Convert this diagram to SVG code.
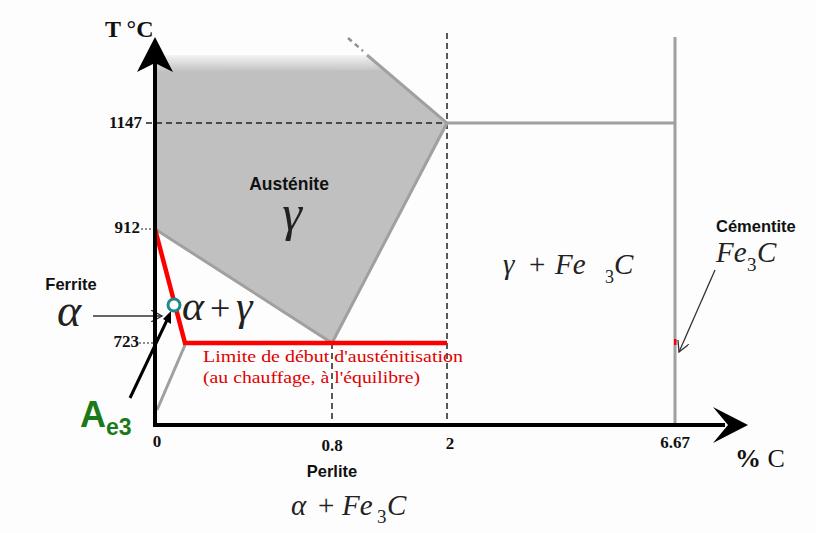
<svg xmlns="http://www.w3.org/2000/svg" width="816" height="533" viewBox="0 0 816 533">
<defs>
<linearGradient id="topfade" x1="0" y1="0" x2="0" y2="1">
<stop offset="0" stop-color="#f4f4f4"/>
<stop offset="1" stop-color="#c0c0c0"/>
</linearGradient>
<marker id="open" viewBox="0 0 12 12" refX="11" refY="6" markerWidth="12" markerHeight="12" markerUnits="userSpaceOnUse" orient="auto">
<path d="M0,0 L11,6 L0,12" fill="none" stroke="#333" stroke-width="1.3"/>
</marker>
</defs>
<style>
.tick{font-family:"Liberation Serif",serif;font-weight:bold;font-size:17px;fill:#111}
.lab{font-family:"Liberation Sans",Arial,sans-serif;font-weight:bold;fill:#111}
.math{font-family:"Liberation Serif","Times New Roman",serif;font-style:italic;fill:#222}
.up{font-style:normal}
.red{font-family:"Liberation Serif",serif;font-size:17.5px;fill:#e00000}
.dash{stroke:#222;stroke-width:1.5;stroke-dasharray:6 4;fill:none}
.dot{stroke:#222;stroke-width:1.2;stroke-dasharray:2 2;fill:none}
.phase{stroke:#a0a0a0;stroke-width:3;fill:none}
</style>
<rect width="816" height="533" fill="#fdfdfd"/>

<g id="austenite-region">
<polygon points="155,55 367,55 447,123 332,343 155,229" fill="#c0c0c0"/>
<polygon points="367,55 385,70 155,72 155,55" fill="url(#topfade)"/>
</g>

<g id="connectors">
<line class="dash" x1="146" y1="123" x2="447" y2="123"/>
<line class="dash" x1="447" y1="33" x2="447" y2="425"/>
<line class="dash" x1="332" y1="343" x2="332" y2="425"/>
<line class="dot" x1="141" y1="229" x2="155" y2="229"/>
<line class="dot" x1="139" y1="343" x2="155" y2="343"/>
<line x1="348" y1="38" x2="363" y2="51" stroke="#909090" stroke-width="2.5" stroke-dasharray="5 4"/>
<polyline class="phase" points="367,55 447,123 332,343 155,229" stroke="#909090"/>
<line class="phase" x1="447" y1="123" x2="675" y2="123" stroke="#888"/>
<line class="phase" x1="675" y1="37" x2="675" y2="425"/>
<line class="phase" x1="185" y1="345" x2="157" y2="410"/>
<polyline points="155,229 185,343 447,343" fill="none" stroke="#ff0000" stroke-width="4.5" stroke-linejoin="miter"/>
<rect x="674" y="339" width="2.5" height="6" fill="#ff0000"/>
<line x1="93" y1="316" x2="162" y2="316" stroke="#333" stroke-width="1.3" marker-end="url(#open)"/>
<line x1="715" y1="270" x2="679" y2="352" stroke="#333" stroke-width="1.3" marker-end="url(#open)"/>
<line x1="130" y1="398" x2="168" y2="318" stroke="#000" stroke-width="3"/>
<polygon points="171,311 171,324 163,319" fill="#000"/>
</g>

<g id="axes">
<line x1="155" y1="60" x2="155" y2="427" stroke="#000" stroke-width="4"/>
<polygon points="155,37 173,72 155,63 137,72" fill="#000"/>
<line x1="153" y1="425" x2="725" y2="425" stroke="#000" stroke-width="4"/>
<polygon points="748,425 713,407 728,425 713,443" fill="#000"/>
<text x="105" y="37" font-family="Liberation Serif,serif" font-weight="bold" font-size="24" fill="#111">T °C</text>
<text x="735" y="467" font-family="Liberation Serif,serif" font-size="26" fill="#111"><tspan font-weight="bold">%</tspan> C</text>
</g>

<g id="ticks">
<text class="tick" x="142" y="128" text-anchor="end">1147</text>
<text class="tick" x="140" y="233" text-anchor="end">912</text>
<text class="tick" x="139" y="347" text-anchor="end">723</text>
<text class="tick" x="157" y="447" text-anchor="middle">0</text>
<text class="tick" x="332" y="451" text-anchor="middle">0.8</text>
<text class="tick" x="450" y="449" text-anchor="middle">2</text>
<text class="tick" x="675" y="448" text-anchor="middle">6.67</text>
</g>

<g id="austenite-label">
<text class="lab" x="289" y="190" font-size="17.5" text-anchor="middle">Austénite</text>
<text class="math" x="292" y="230" font-size="50" text-anchor="middle">γ</text>
</g>

<g id="alpha-gamma">
<text class="math" y="320" font-size="42"><tspan x="182">α</tspan><tspan class="up" x="210" font-size="36">+</tspan><tspan x="236">γ</tspan></text>
</g>

<g id="ferrite">
<text class="lab" x="71" y="290" font-size="16.5" text-anchor="middle">Ferrite</text>
<text class="math" x="57" y="326" font-size="46">α</text>
</g>

<g id="ae3">
<circle cx="174" cy="305" r="6" fill="#fff" stroke="#1a8a8a" stroke-width="3"/>
<text x="80" y="427" font-family="Liberation Sans,Arial,sans-serif" font-weight="bold" font-size="36" fill="#1a7a1a">A<tspan font-size="23" dy="8">e3</tspan></text>
</g>

<g id="limite">
<text class="red" x="203" y="362" textLength="260" lengthAdjust="spacingAndGlyphs">Limite de début d'austénitisation</text>
<text class="red" x="203" y="383" textLength="217" lengthAdjust="spacingAndGlyphs">(au chauffage, à l'équilibre)</text>
</g>

<g id="gamma-fe3c">
<text class="math" y="274" font-size="29"><tspan x="503">γ</tspan><tspan class="up" x="529">+</tspan><tspan x="555">Fe</tspan><tspan class="up" x="605" dy="9" font-size="18">3</tspan><tspan x="614" dy="-9">C</tspan></text>
</g>

<g id="cementite">
<text class="lab" x="716" y="232" font-size="16.5">Cémentite</text>
<text class="math" y="262" font-size="29"><tspan x="716">Fe</tspan><tspan class="up" x="747" dy="9" font-size="19">3</tspan><tspan x="757" dy="-9">C</tspan></text>
</g>

<g id="perlite">
<text class="lab" x="332" y="477" font-size="16.5" text-anchor="middle">Perlite</text>
<text class="math" y="515" font-size="29"><tspan x="291">α</tspan><tspan class="up" x="318">+</tspan><tspan x="342">Fe</tspan><tspan class="up" x="377" dy="8" font-size="19">3</tspan><tspan x="387" dy="-8">C</tspan></text>
</g>
</svg>
